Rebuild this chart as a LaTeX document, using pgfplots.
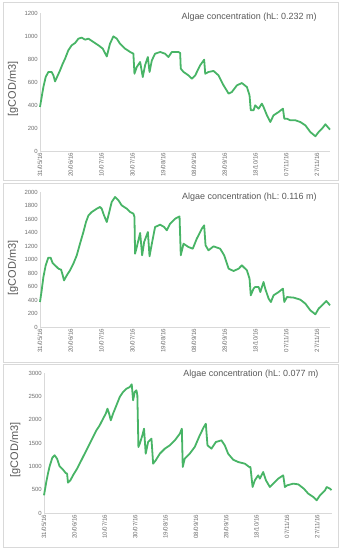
\documentclass[border=0pt]{standalone}
\usepackage{fontspec}
\setmainfont{Liberation Sans}
\usepackage{pgfplots}
\pgfplotsset{compat=1.18}
\definecolor{algae}{RGB}{72,180,102}
\definecolor{txt}{RGB}{89,89,89}
\definecolor{tck}{RGB}{110,110,110}
\definecolor{frm}{RGB}{217,217,217}
\pgfplotsset{
  panel/.style={
    scale only axis,
    xmin=0,
    axis x line*=bottom, axis y line*=left,
    axis line style={draw=frm, line width=0.6bp},
    major tick length=0pt,
    xtick={0,20,40,60,80,100,120,140,160,180},
    xticklabels={31/05/16,20/06/16,10/07/16,30/07/16,19/08/16,08/09/16,28/09/16,18/10/16,07/11/16,27/11/16},
    xticklabel style={rotate=90, anchor=east, font=\fontsize{6.2}{6.5}\selectfont, text=tck, inner sep=1.5bp},
    yticklabel style={font=\fontsize{6}{6.5}\selectfont, text=tck, inner sep=2bp},
    /pgf/number format/assume math mode=true,
    /pgf/number format/1000 sep={},
    ylabel={[gCOD/m3]},
    ylabel style={font=\fontsize{11}{12}\selectfont, text=txt},
    clip=false,
  },
  ser/.style={draw=algae, line width=1.8bp, line join=round, no markers},
}
\begin{document}
\begin{tikzpicture}
\path (0bp,0bp) rectangle (341bp,550bp);
\draw[frm, line width=0.6bp] (3bp,370bp) rectangle (338bp,548bp);
\draw[frm, line width=0.6bp] (3bp,188bp) rectangle (338bp,367bp);
\draw[frm, line width=0.6bp] (3bp,3bp) rectangle (338bp,186bp);

% Panel 1
\begin{axis}[panel, at={(40bp,399bp)}, anchor=south west, width=290bp, height=138bp,
  xmax=188.5, ymin=0, ymax=1200, ytick={0,200,400,600,800,1000,1200},
  ylabel style={at={(axis description cs:-0.093,0.45)}, anchor=center, rotate=0}]
\addplot[ser] coordinates {(0,383)(1.1,470)(2.2,556)(3.7,643)(5.4,687)(7.6,687)(8.7,658)(9.8,605)(11.3,650)(13,700)(14.8,760)(16.3,803)(18.4,875)(20.6,919)(22.8,939)(25,977)(27.1,986)(29.3,968)(31.5,977)(34.7,948)(38,919)(40.8,890)(43.4,822)(45.5,933)(47.7,997)(49.9,977)(52,933)(55.3,890)(58.6,861)(60.7,846)(61.4,672)(62.9,730)(65.1,774)(66.8,643)(68.3,745)(70.1,817)(71.2,687)(72.7,788)(74.8,846)(78.1,861)(81.3,846)(83.5,817)(85.7,861)(90,861)(91.1,852)(91.5,716)(93.3,687)(96.5,658)(98.7,629)(100.9,658)(104.1,745)(106.7,794)(107.4,672)(109.5,687)(112.8,696)(116,658)(119.3,571)(122.6,499)(124.7,513)(128,571)(131.2,591)(134.5,556)(136.2,484)(137,354)(138.8,354)(139.9,397)(142.1,368)(144.2,412)(145.3,383)(147.5,310)(149.7,252)(151.8,310)(155.1,339)(157.9,368)(158.8,281)(160.5,281)(162.7,267)(166,267)(169.2,252)(172.5,223)(175.7,165)(179,128)(181.1,165)(183.3,194)(185.5,232)(187,209)(188.5,186)};
\node[anchor=east, font=\fontsize{9}{10}\selectfont, text=txt] at (axis description cs:0.966,0.971) {Algae concentration (hL: 0.232 m)};
\end{axis}

% Panel 2
\begin{axis}[panel, at={(40bp,223bp)}, anchor=south west, width=290bp, height=135bp,
  xmax=188.5, ymin=0, ymax=2000, ytick={0,200,400,600,800,1000,1200,1400,1600,1800,2000},
  ylabel style={at={(axis description cs:-0.093,0.437)}, anchor=center, rotate=0}]
\addplot[ser] coordinates {(0,370)(1.1,543)(2.2,740)(3.7,913)(5.4,1027)(6.9,1027)(8.2,948)(9.8,913)(12,864)(13.7,849)(14.8,765)(15.6,690)(17.4,765)(19.5,839)(21.7,938)(23.9,1062)(26,1234)(28.2,1407)(29.9,1555)(31.5,1654)(33.6,1703)(36.9,1753)(39,1778)(40.1,1753)(41.6,1654)(43.4,1555)(44.5,1654)(46.6,1852)(48.8,1926)(51,1876)(53.1,1802)(56.4,1753)(58.6,1703)(60.7,1679)(61.4,1630)(61.8,1086)(62.9,1185)(65.1,1393)(66.4,1062)(67.7,1259)(70.1,1407)(71.2,1047)(72.7,1234)(74.8,1481)(78.1,1516)(80.7,1481)(82.4,1432)(84.6,1531)(87.9,1605)(90.7,1639)(91.5,1062)(93.3,1234)(96.5,1185)(99.3,1160)(101.9,1308)(105.2,1457)(106.7,1506)(107.6,1210)(109.5,1136)(112.8,1195)(117.1,1160)(119.7,1062)(122.6,864)(125.8,830)(129.1,864)(131.2,913)(134.5,839)(136.2,716)(137,469)(138.8,568)(139.9,593)(142.1,593)(143.2,518)(145.3,667)(146.4,568)(148.6,420)(150.1,370)(151.8,469)(155.1,518)(157.9,568)(158.8,370)(160.5,444)(164.9,435)(169.2,405)(172.5,346)(175.7,247)(179,188)(181.1,272)(184.4,346)(186.1,385)(187.6,346)(188.5,321)};
\node[anchor=east, font=\fontsize{9}{10}\selectfont, text=txt] at (axis description cs:0.966,0.963) {Algae concentration (hL: 0.116 m)};
\end{axis}

% Panel 3
\begin{axis}[panel, at={(44bp,37bp)}, anchor=south west, width=287.5bp, height=140bp,
  xmax=189.4, ymin=0, ymax=3000, ytick={0,500,1000,1500,2000,2500,3000},
  ylabel style={at={(axis description cs:-0.10,0.45)}, anchor=center, rotate=0}]
\addplot[ser] coordinates {(0,379)(1.5,664)(2.6,843)(3.7,1000)(5.5,1186)(7,1236)(8.6,1164)(10.3,1000)(12.5,929)(14.3,857)(15.2,843)(15.8,650)(17.4,700)(19.1,807)(21.8,950)(24.6,1129)(27.9,1343)(31.2,1557)(34.5,1771)(36.7,1879)(38.9,2021)(40.7,2129)(41.8,2236)(42.9,2129)(44,1986)(45.5,2129)(47.7,2307)(49.9,2486)(52.1,2593)(54.3,2664)(56.5,2700)(57.8,2757)(58.7,2414)(59.8,2593)(60.9,2629)(61.5,2521)(62.2,1414)(63.1,1486)(64.8,1664)(65.9,1807)(67,1271)(68.6,1521)(70.8,1593)(71.9,1057)(73.6,1129)(76.3,1271)(79.6,1379)(82.9,1450)(86.2,1557)(89.5,1700)(90.8,1807)(91.4,986)(92.7,1164)(96,1271)(99.3,1414)(102.6,1664)(105.3,1843)(106.6,1914)(107.7,1450)(110.3,1379)(113.2,1521)(116.9,1557)(119.1,1450)(121.3,1271)(124.6,1143)(127.9,1093)(132.3,1057)(135.2,986)(136,986)(137.4,557)(138.9,700)(141.1,807)(142.2,736)(144.4,879)(146.2,700)(148.8,557)(151,629)(154.3,736)(157.6,807)(158.7,557)(160.2,593)(164.2,629)(167.5,614)(171.2,521)(174.1,414)(177.4,343)(179.6,271)(181.8,379)(185.1,486)(186.2,557)(188.4,521)(189.4,490)};
\node[anchor=east, font=\fontsize{9}{10}\selectfont, text=txt] at (axis description cs:0.967,0.993) {Algae concentration (hL: 0.077 m)};
\end{axis}
\end{tikzpicture}
\end{document}
